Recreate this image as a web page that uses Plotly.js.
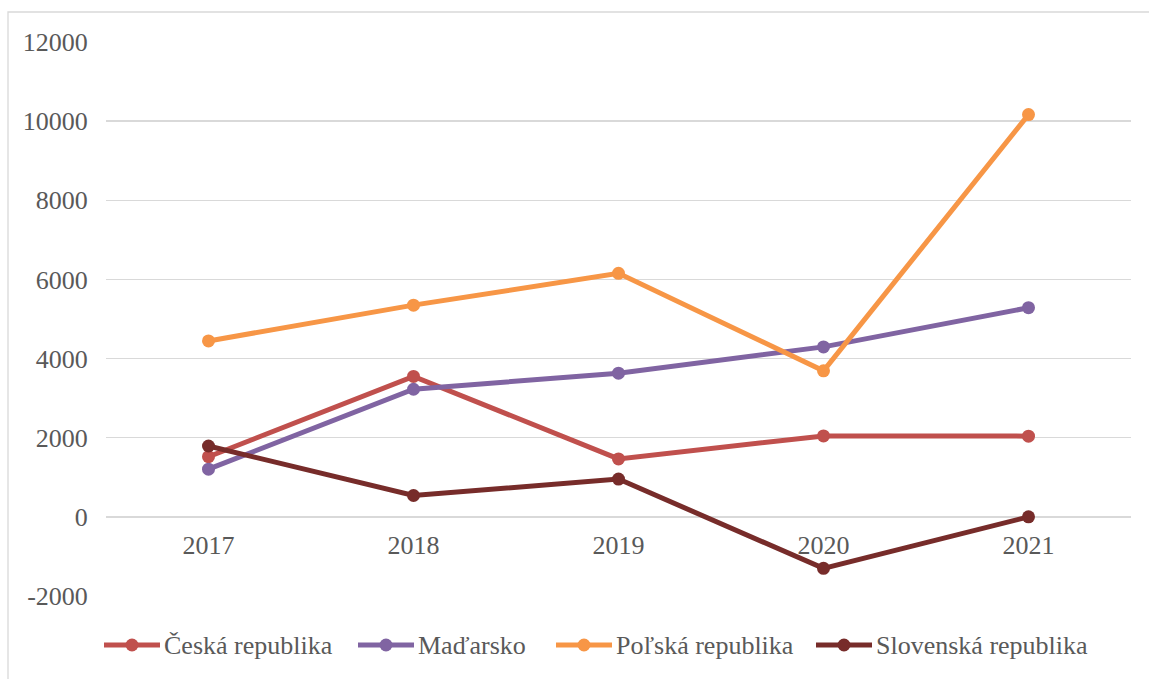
<!DOCTYPE html>
<html>
<head>
<meta charset="utf-8">
<script src="https://cdn.plot.ly/plotly-3.0.1.min.js"></script>
<style>
html,body{margin:0;padding:0;background:#fff;}
#chart{width:1149px;height:679px;}
</style>
</head>
<body>
<div id="chart"></div>
<script>
const years = ["2017", "2018", "2019", "2020", "2021"];
const seriesNames = ["Česká republika", "Maďarsko", "Poľská republika", "Slovenská republika"];
const ceska = [1520, 3550, 1465, 2045, 2040];
const madarsko = [1205, 3225, 3630, 4295, 5285];
const polska = [4445, 5350, 6155, 3690, 10165];
const slovenska = [1790, 540, 955, -1300, 0];
const colors = ["#C0504D", "#8064A2", "#F79646", "#772C2A"];
const yTickVals = [-2000, 0, 2000, 4000, 6000, 8000, 10000, 12000];
const yTickText = ["-2000", "0", "2000", "4000", "6000", "8000", "10000", "12000"];

const allValues = [ceska, madarsko, polska, slovenska];
const traces = allValues.map((vals, i) => ({
  type: "scatter",
  mode: "lines+markers",
  name: seriesNames[i],
  x: years,
  y: vals,
  line: {color: colors[i], width: 5},
  marker: {color: colors[i], size: 13},
  showlegend: false
}));

const FS = 26;
const FAMILY = "Liberation Serif";
const mkFont = () => ({family: FAMILY, size: FS, color: "#595959"});

// plot area geometry in px (for placing the hand-made legend)
const mL = 106, mR = 18, mT = 42, mB = 83, W = 1149, H = 679;
const pw = W - mL - mR, ph = H - mT - mB;
const px2x = p => (p - mL) / pw;
const py2y = p => (H - mB - p) / ph;

const legendStarts = [104, 358, 556, 816];
const legendY = 645;
const shapes = [{
  type: "rect", xref: "paper", yref: "paper",
  x0: px2x(8), x1: px2x(1170), y0: py2y(700), y1: py2y(12),
  line: {color: "#D9D9D9", width: 1.3},
  layer: "below"
}];
const annotations = [];
legendStarts.forEach((s, i) => {
  shapes.push({
    type: "line", xref: "paper", yref: "paper",
    x0: px2x(s), x1: px2x(s + 56), y0: py2y(legendY), y1: py2y(legendY),
    line: {color: colors[i], width: 5}
  });
  shapes.push({
    type: "circle", xref: "paper", yref: "paper",
    x0: px2x(s + 28 - 6.5), x1: px2x(s + 28 + 6.5),
    y0: py2y(legendY + 6.5), y1: py2y(legendY - 6.5),
    fillcolor: colors[i], line: {color: colors[i], width: 0}
  });
  annotations.push({
    xref: "paper", yref: "paper",
    x: px2x(s + 58), y: py2y(legendY),
    xanchor: "left", yanchor: "middle",
    text: seriesNames[i], showarrow: false,
    font: mkFont()
  });
});

const layout = {
  width: W,
  height: H,
  margin: {l: mL, r: mR, t: mT, b: mB},
  paper_bgcolor: "#ffffff",
  plot_bgcolor: "#ffffff",
  showlegend: false,
  xaxis: {
    type: "category",
    range: [-0.5, 4.5],
    anchor: "free",
    position: 1/7,
    showgrid: false,
    zeroline: false,
    showline: false,
    ticks: "outside",
    ticklen: 5,
    tickcolor: "rgba(0,0,0,0)",
    tickfont: mkFont(),
    fixedrange: true
  },
  yaxis: {
    range: [-2000, 12000],
    tickvals: yTickVals,
    ticktext: yTickText,
    showgrid: true,
    gridcolor: "#D9D9D9",
    gridwidth: 1.3,
    zeroline: false,
    showline: false,
    ticks: "outside",
    ticklen: 12,
    tickcolor: "rgba(0,0,0,0)",
    tickfont: mkFont(),
    fixedrange: true
  },
  shapes: shapes,
  annotations: annotations
};

Plotly.newPlot("chart", traces, layout, {displayModeBar: false, staticPlot: true});
</script>
</body>
</html>
